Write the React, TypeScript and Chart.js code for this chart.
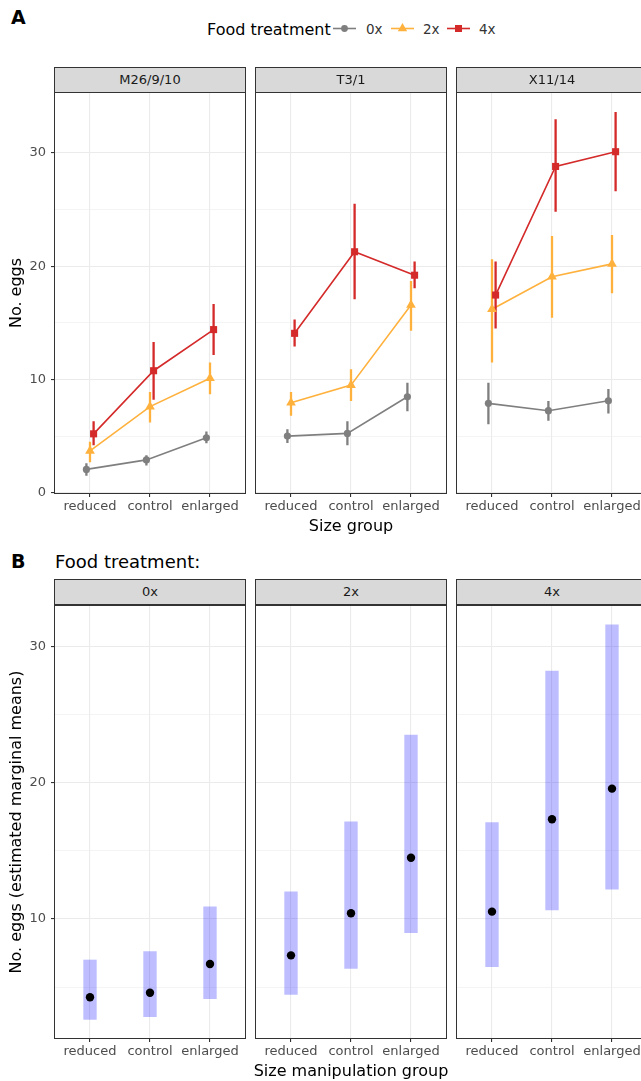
import React, { useEffect, useRef } from 'react';
import { Chart, registerables } from 'chart.js';
Chart.register(...registerables);

// ---------- categories / labels ----------
const sizeGroups = ['reduced', 'control', 'enlarged'];
const lineFacets = ['M26/9/10', 'T3/1', 'X11/14'];
const foodLevels = ['0x', '2x', '4x'];
const yGridA = [0, 5, 10, 15, 20, 25, 30];
const yLabelsA = [0, 10, 20, 30];
const yGridB = [5, 10, 15, 20, 25, 30];
const yLabelsB = [10, 20, 30];

// ---------- Panel A: raw means with error bars ----------
// M26/9/10
const m26_0x_mean = [2.06, 2.9, 4.85];
const m26_0x_lo = [1.5, 2.4, 4.36];
const m26_0x_hi = [2.6, 3.3, 5.4];
const m26_2x_mean = [3.7, 7.6, 10.1];
const m26_2x_lo = [2.7, 6.2, 8.7];
const m26_2x_hi = [4.5, 8.9, 11.5];
const m26_4x_mean = [5.2, 10.77, 14.4];
const m26_4x_lo = [4.2, 8.2, 12.15];
const m26_4x_hi = [6.3, 13.3, 16.65];
// T3/1
const t3_0x_mean = [5.0, 5.24, 8.47];
const t3_0x_lo = [4.4, 4.2, 7.2];
const t3_0x_hi = [5.6, 6.3, 9.7];
const t3_2x_mean = [7.94, 9.5, 16.57];
const t3_2x_lo = [6.8, 8.1, 14.3];
const t3_2x_hi = [8.9, 10.9, 18.7];
const t3_4x_mean = [14.07, 21.27, 19.2];
const t3_4x_lo = [12.9, 17.07, 18.04];
const t3_4x_hi = [15.3, 25.5, 20.4];
// X11/14
const x11_0x_mean = [7.89, 7.24, 8.12];
const x11_0x_lo = [6.04, 6.35, 7.0];
const x11_0x_hi = [9.7, 8.1, 9.15];
const x11_2x_mean = [16.2, 19.07, 20.2];
const x11_2x_lo = [11.5, 15.45, 17.6];
const x11_2x_hi = [20.6, 22.66, 22.74];
const x11_4x_mean = [17.45, 28.8, 30.1];
const x11_4x_lo = [14.5, 24.8, 26.6];
const x11_4x_hi = [20.4, 32.96, 33.6];

// ---------- Panel B: estimated marginal means ----------
const emm_0x = [4.25, 4.59, 6.7];
const emm_0x_lo = [2.63, 2.83, 4.15];
const emm_0x_hi = [6.99, 7.6, 10.9];
const emm_2x = [7.33, 10.42, 14.5];
const emm_2x_lo = [4.47, 6.38, 9.0];
const emm_2x_hi = [12.0, 17.14, 23.5];
const emm_4x = [10.54, 17.32, 19.57];
const emm_4x_lo = [6.5, 10.66, 12.18];
const emm_4x_hi = [17.07, 28.2, 31.6];

// ---------- styling ----------
const FONT = 'DejaVu Sans';
const foodColors = ['#7f7f7f', '#ffb13d', '#d42a2a'];
const foodShapes = ['circle', 'triangle', 'rect'];
const foodRadius = [3.6, 5.6, 5];
const dodge = [-0.06, 0, 0.06];
const tickFont = { family: FONT, size: 13 };
const tickColor = '#4d4d4d';

const facetsA = [
  { name: lineFacets[0], series: [
    { mean: m26_0x_mean, lo: m26_0x_lo, hi: m26_0x_hi },
    { mean: m26_2x_mean, lo: m26_2x_lo, hi: m26_2x_hi },
    { mean: m26_4x_mean, lo: m26_4x_lo, hi: m26_4x_hi },
  ] },
  { name: lineFacets[1], series: [
    { mean: t3_0x_mean, lo: t3_0x_lo, hi: t3_0x_hi },
    { mean: t3_2x_mean, lo: t3_2x_lo, hi: t3_2x_hi },
    { mean: t3_4x_mean, lo: t3_4x_lo, hi: t3_4x_hi },
  ] },
  { name: lineFacets[2], series: [
    { mean: x11_0x_mean, lo: x11_0x_lo, hi: x11_0x_hi },
    { mean: x11_2x_mean, lo: x11_2x_lo, hi: x11_2x_hi },
    { mean: x11_4x_mean, lo: x11_4x_lo, hi: x11_4x_hi },
  ] },
];

const facetsB = [
  { name: foodLevels[0], mean: emm_0x, lo: emm_0x_lo, hi: emm_0x_hi },
  { name: foodLevels[1], mean: emm_2x, lo: emm_2x_lo, hi: emm_2x_hi },
  { name: foodLevels[2], mean: emm_4x, lo: emm_4x_lo, hi: emm_4x_hi },
];

// layout
const FACET_LEFT = [54, 255, 456];
const FACET_W = 192;
const Y_AXIS_W = 54;
const X_AXIS_H = 30;
const A_TOP = 92, A_H = 402;
const B_TOP = 605, B_H = 434;
const A_MIN = -0.11, A_MAX = 35.37;
const B_MIN = 1.19, B_MAX = 33.05;

const panelBorder = {
  id: 'panelBorder',
  afterDraw(chart: any) {
    const { ctx, chartArea: a } = chart;
    ctx.save();
    ctx.strokeStyle = '#333333';
    ctx.lineWidth = 1;
    ctx.strokeRect(a.left + 0.5, a.top + 0.5, a.right - a.left - 1, a.bottom - a.top - 1);
    ctx.restore();
  },
};

function xScale() {
  return {
    type: 'linear', min: -0.6, max: 2.6, offset: false,
    afterBuildTicks: (s: any) => { s.ticks = sizeGroups.map((_, i) => ({ value: i })); },
    afterFit: (s: any) => { s.height = X_AXIS_H; s.paddingLeft = 0; s.paddingRight = 0; s.paddingTop = 0; s.paddingBottom = 0; },
    ticks: { callback: (v: any) => sizeGroups[v] ?? '', font: tickFont, color: tickColor, padding: 2, maxRotation: 0, minRotation: 0, autoSkip: false },
    grid: { offset: false, color: '#ebebeb', lineWidth: 1.1, tickLength: 3, tickColor: '#333333', tickWidth: 1.1 },
    border: { display: false },
  };
}

function yScale(min: number, max: number, grid: number[], labels: number[], show: boolean, title: string) {
  const isMajor = (c: any) => c.tick && labels.includes(c.tick.value);
  return {
    type: 'linear', min, max, offset: false, beginAtZero: false,
    afterBuildTicks: (s: any) => { s.ticks = grid.map((v) => ({ value: v })); },
    afterFit: (s: any) => { s.width = show ? Y_AXIS_W : 0; s.paddingTop = 0; s.paddingBottom = 0; s.paddingLeft = 0; s.paddingRight = 0; },
    ticks: { display: show, callback: (v: any) => (labels.includes(v) ? String(v) : ''), font: tickFont, color: tickColor, padding: 5 },
    grid: {
      offset: false,
      color: '#ebebeb',
      lineWidth: (c: any) => (isMajor(c) ? 1.1 : 0.55),
      drawTicks: show, tickLength: 3, tickWidth: 1.1,
      tickColor: (c: any) => (isMajor(c) ? '#333333' : 'rgba(0,0,0,0)'),
    },
    border: { display: false },
    title: show
      ? { display: true, text: title, font: { family: FONT, size: 16 }, color: '#000000', padding: { top: 7.5, bottom: 0 } }
      : { display: false },
  };
}

function baseOptions(yMin: number, yMax: number, grid: number[], labels: number[], show: boolean, title: string) {
  return {
    responsive: false,
    maintainAspectRatio: false,
    animation: false,
    devicePixelRatio: 1,
    events: [],
    layout: { padding: 0, autoPadding: false },
    plugins: { legend: { display: false }, tooltip: { enabled: false } },
    scales: { x: xScale(), y: yScale(yMin, yMax, grid, labels, show, title) },
  };
}

function buildA(fi: number, show: boolean) {
  const datasets: any[] = [];
  facetsA[fi].series.forEach((s, k) => {
    const xs = sizeGroups.map((_, i) => i + dodge[k]);
    datasets.push({
      type: 'line', label: foodLevels[k] + ' line', order: 10 - k,
      data: xs.map((x, i) => ({ x, y: s.mean[i] })),
      borderColor: foodColors[k], borderWidth: 1.6, pointRadius: 0, fill: false, tension: 0,
    });
    const eb: any[] = [];
    xs.forEach((x, i) => { eb.push({ x, y: s.lo[i] }, { x, y: s.hi[i] }, { x, y: null }); });
    datasets.push({
      type: 'line', label: foodLevels[k] + ' se', order: 6 - k,
      data: eb, borderColor: foodColors[k], borderWidth: 2.3, pointRadius: 0, spanGaps: false, fill: false,
      borderCapStyle: 'butt',
    });
    datasets.push({
      type: 'line', label: foodLevels[k], order: 3 - k, showLine: false,
      data: xs.map((x, i) => ({ x, y: s.mean[i] })),
      pointStyle: foodShapes[k], pointRadius: foodRadius[k],
      pointBackgroundColor: foodColors[k], pointBorderWidth: 0, borderColor: foodColors[k],
    });
  });
  return {
    type: 'line',
    data: { datasets },
    options: baseOptions(A_MIN, A_MAX, yGridA, yLabelsA, show, 'No. eggs'),
    plugins: [panelBorder],
  };
}

function buildB(fi: number, show: boolean) {
  const f = facetsB[fi];
  return {
    type: 'line',
    data: {
      datasets: [
        {
          type: 'bar', label: f.name + ' CI', order: 2,
          data: sizeGroups.map((_, i) => ({ x: i, y: [f.lo[i], f.hi[i]] })),
          backgroundColor: 'rgba(0,0,255,0.26)', borderWidth: 0, barThickness: 12.7, borderSkipped: false,
        },
        {
          type: 'line', label: f.name, order: 1, showLine: false,
          data: sizeGroups.map((_, i) => ({ x: i, y: f.mean[i] })),
          pointStyle: 'circle', pointRadius: 4.2, pointBackgroundColor: '#000000', pointBorderWidth: 0,
        },
      ],
    },
    options: baseOptions(B_MIN, B_MAX, yGridB, yLabelsB, show, 'No. eggs (estimated marginal means)'),
    plugins: [panelBorder],
  };
}

function ChartCanvas({ left, top, width, height, build }: any) {
  const ref = useRef<HTMLCanvasElement>(null);
  useEffect(() => {
    const chart = new Chart(ref.current as HTMLCanvasElement, build() as any);
    return () => chart.destroy();
  }, []);
  return (
    <canvas ref={ref} width={width} height={height}
      style={{ position: 'absolute', left, top, width, height, display: 'block' }} />
  );
}

function Text({ x, y, text, size, weight = 'normal', align = 'left', color = '#000000' }: any) {
  const h = Math.round(size * 1.3);
  const style: any = {
    position: 'absolute', top: y - h / 2, height: h, lineHeight: h + 'px',
    fontFamily: FONT, fontSize: size, fontWeight: weight, color, whiteSpace: 'nowrap',
  };
  if (align === 'left') style.left = x;
  else if (align === 'center') { style.left = x - 300; style.width = 600; style.textAlign = 'center'; }
  return <div style={style}>{text}</div>;
}

function Strip({ left, top, label }: any) {
  return (
    <div style={{
      position: 'absolute', left, top, width: FACET_W, height: 26, boxSizing: 'border-box',
      border: '1px solid #333333', background: '#d9d9d9', color: '#1a1a1a',
      fontFamily: FONT, fontSize: 13, textAlign: 'center', lineHeight: '24px',
    }}>{label}</div>
  );
}

function LegendKey({ left, k }: any) {
  const c = foodColors[k];
  const cx = 11.5, cy = 8.5;
  let marker: any;
  if (foodShapes[k] === 'circle') marker = <circle cx={cx} cy={cy} r={3.4} fill={c} />;
  else if (foodShapes[k] === 'triangle') {
    const r = 5.4;
    marker = <polygon points={`${cx},${cy - r} ${cx + 0.866 * r},${cy + 0.5 * r} ${cx - 0.866 * r},${cy + 0.5 * r}`} fill={c} />;
  } else marker = <rect x={cx - 3.5} y={cy - 3.5} width={7} height={7} fill={c} />;
  return (
    <svg width={23} height={17} style={{ position: 'absolute', left, top: 20, background: '#ffffff' }}>
      <line x1={0} y1={cy} x2={23} y2={cy} stroke={c} strokeWidth={1.6} />
      {marker}
    </svg>
  );
}

export default function App() {
  return (
    <div style={{ position: 'fixed', left: 0, top: 0, width: 641, height: 1081, overflow: 'hidden', background: '#ffffff' }}>
      {/* Panel A header */}
      <Text x={11} y={17.5} text="A" size={19} weight="bold" />
      <Text x={207} y={29} text="Food treatment" size={16} />
      <LegendKey left={333} k={0} />
      <Text x={366} y={29} text={foodLevels[0]} size={13.5} color="#333333" />
      <LegendKey left={391} k={1} />
      <Text x={423} y={29} text={foodLevels[1]} size={13.5} color="#333333" />
      <LegendKey left={447} k={2} />
      <Text x={479} y={29} text={foodLevels[2]} size={13.5} color="#333333" />

      {facetsA.map((f, i) => (
        <ChartCanvas key={'a' + i}
          left={i === 0 ? 0 : FACET_LEFT[i]} top={A_TOP}
          width={i === 0 ? FACET_W + Y_AXIS_W : FACET_W} height={A_H + X_AXIS_H}
          build={() => buildA(i, i === 0)} />
      ))}
      {facetsA.map((f, i) => <Strip key={'sa' + i} left={FACET_LEFT[i]} top={67} label={f.name} />)}
      <Text x={351} y={525} text="Size group" size={16} align="center" />

      {/* Panel B */}
      <Text x={11} y={561} text="B" size={19} weight="bold" />
      <Text x={55} y={561} text="Food treatment:" size={18} />
      {facetsB.map((f, i) => (
        <ChartCanvas key={'b' + i}
          left={i === 0 ? 0 : FACET_LEFT[i]} top={B_TOP}
          width={i === 0 ? FACET_W + Y_AXIS_W : FACET_W} height={B_H + X_AXIS_H}
          build={() => buildB(i, i === 0)} />
      ))}
      {facetsB.map((f, i) => <Strip key={'sb' + i} left={FACET_LEFT[i]} top={579} label={f.name} />)}
      <Text x={351} y={1070} text="Size manipulation group" size={16} align="center" />
    </div>
  );
}
